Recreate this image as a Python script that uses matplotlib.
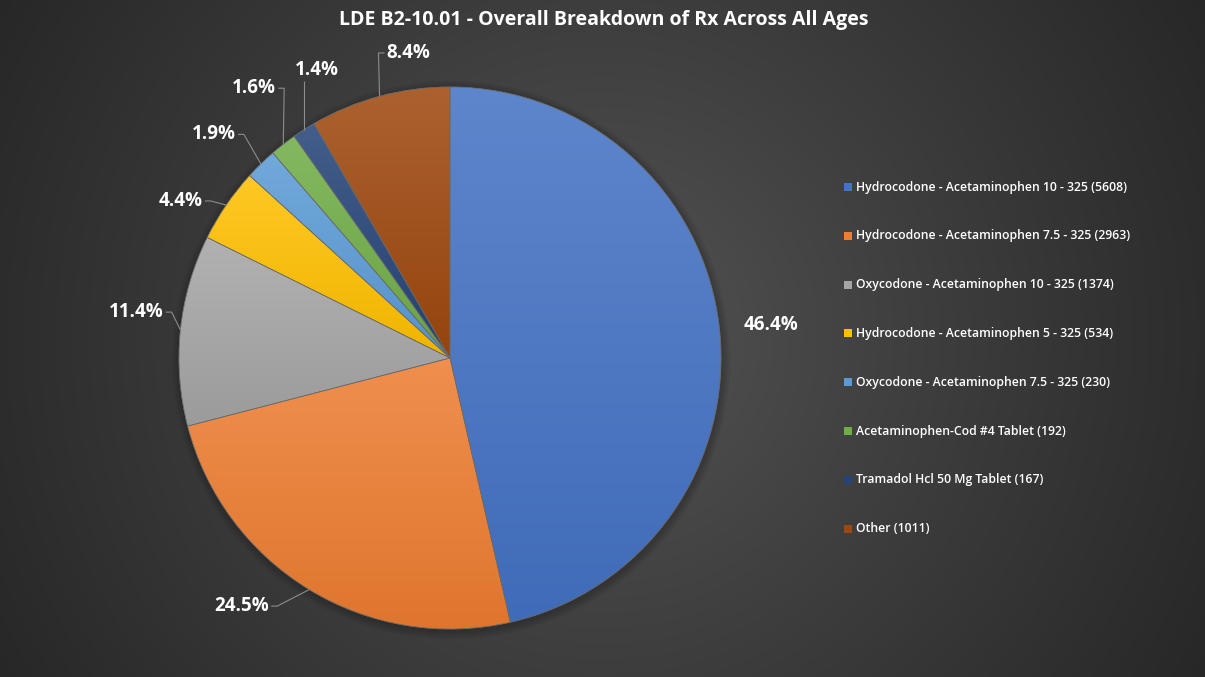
import numpy as np
import matplotlib
matplotlib.use("Agg")
import matplotlib.pyplot as plt
from matplotlib.colors import to_rgb
from matplotlib.patches import Rectangle, Wedge

title = "LDE B2-10.01 - Overall Breakdown of Rx Across All Ages"
categories = [
    "Hydrocodone - Acetaminophen 10 - 325",
    "Hydrocodone - Acetaminophen 7.5 - 325",
    "Oxycodone - Acetaminophen 10 - 325",
    "Hydrocodone - Acetaminophen 5 - 325",
    "Oxycodone - Acetaminophen 7.5 - 325",
    "Acetaminophen-Cod #4 Tablet",
    "Tramadol Hcl 50 Mg Tablet",
    "Other",
]
counts = [5608, 2963, 1374, 534, 230, 192, 167, 1011]
colors = ["#4472C4", "#ED7D31", "#A5A5A5", "#FFC000",
          "#5B9BD5", "#70AD47", "#264478", "#9E480E"]

# label placement tweaks (angle offset in degrees, radius factor)
label_dang = [-0.5, -8.7, -2.4, 4.1, 2.3, -2.0, -7.8, -7.3]
label_rfac = [1.19, 1.195, 1.17, 1.15, 1.20, 1.23, 1.17, 1.136]
show_leader = [False, True, True, True, True, True, True, True]

W, H = 1205, 677
FONT = ["Open Sans", "DejaVu Sans"]
fig = plt.figure(figsize=(W / 100, H / 100), dpi=100)
ax = fig.add_axes([0, 0, 1, 1])

# radial gradient background
yy, xx = np.mgrid[0:H, 0:W]
cx, cy = 602, H - 338
rr = np.hypot(xx - cx, yy - cy) / np.hypot(620, 350)
rr = np.clip(rr, 0, 1)
inner = np.array(to_rgb("#555555"))
outer = np.array(to_rgb("#262626"))
t = rr[..., None] ** 0.9
bg = inner * (1 - t) + outer * t
ax.imshow(bg, extent=(0, W, 0, H), origin="lower", zorder=0, interpolation="bilinear")

PCX, PCY, R = 450, H - 358, 271

# soft shadow
for k in range(4):
    sh = plt.Circle((PCX + 1, PCY - 2), R + 2 + 2 * k, color="black", alpha=0.05, zorder=1, lw=0)
    ax.add_patch(sh)

wedges, _ = ax.pie(counts, colors=colors, startangle=90, counterclock=False,
                   center=(PCX, PCY), radius=R,
                   wedgeprops=dict(linewidth=0.6, edgecolor="#5a5a5a", zorder=2))

def mix(c, other, f):
    c = np.array(to_rgb(c)); o = np.array(to_rgb(other))
    return c * (1 - f) + o * f

for w, c in zip(wedges, colors):
    ext = w.get_path().get_extents()
    top = mix(c, "white", 0.14)
    bot = mix(c, "black", 0.06)
    g = np.linspace(0, 1, 256)[:, None, None]
    img = bot * (1 - g) + top * g
    im = ax.imshow(img, extent=(ext.x0, ext.x1, ext.y0, ext.y1), origin="lower",
                   zorder=2.5, aspect="auto", interpolation="bilinear")
    im.set_clip_path(w)
    w.set_zorder(2)

for w in wedges:
    ax.add_patch(Wedge((PCX, PCY), R, w.theta1, w.theta2,
                       facecolor="none", edgecolor="#6a6a6a", lw=0.5, zorder=3))

total = sum(counts)
texts = []
mids = []
for i, w in enumerate(wedges):
    mid = 0.5 * (w.theta1 + w.theta2)
    mids.append(mid)
    la = np.deg2rad(mid + label_dang[i])
    lx = PCX + R * label_rfac[i] * np.cos(la)
    ly = PCY + R * label_rfac[i] * np.sin(la)
    txt = ax.text(lx, ly, f"{counts[i] / total * 100:.1f}%", ha="center", va="center",
                  color="white", fontsize=13.5, fontweight="bold", family=FONT, zorder=5)
    texts.append(txt)

ax.set_xlim(0, W)
ax.set_ylim(0, H)
ax.axis("off")

fig.canvas.draw()
renderer = fig.canvas.get_renderer()
inv = ax.transData.inverted()
for i, (w, txt) in enumerate(zip(wedges, texts)):
    if not show_leader[i]:
        continue
    m = np.deg2rad(mids[i])
    px, py = PCX + R * np.cos(m), PCY + R * np.sin(m)
    bb = txt.get_window_extent(renderer).transformed(inv)
    stub = 6
    if bb.x0 <= px <= bb.x1:
        xs, ys = [px, px], [py, bb.y0 - 1]
    elif bb.x0 > px:
        qx, qy = bb.x0 - 2, (bb.y0 + bb.y1) / 2
        xs, ys = [px, qx - stub, qx], [py, qy, qy]
    else:
        qx, qy = bb.x1 + 2, (bb.y0 + bb.y1) / 2
        xs, ys = [px, qx + stub, qx], [py, qy, qy]
    ax.plot(xs, ys, color="#8c8c8c", lw=0.8, zorder=4, solid_capstyle="butt")

# title
ax.text(W / 2 + 1, H - 20, title, ha="center", va="center", color="white",
        fontsize=14, fontweight="bold", family=FONT, zorder=6)

# legend
for i, (cat, n, c) in enumerate(zip(categories, counts, colors)):
    yc = H - (187 + i * 48.8)
    ax.add_patch(Rectangle((844, yc - 4), 8, 8, facecolor=c, edgecolor="none", zorder=6))
    ax.text(856, yc, f"{cat} ({n})", ha="left", va="center", color="white",
            fontsize=8.8, fontweight="semibold", family=FONT, zorder=6)

fig.savefig("out.png", dpi=100)
